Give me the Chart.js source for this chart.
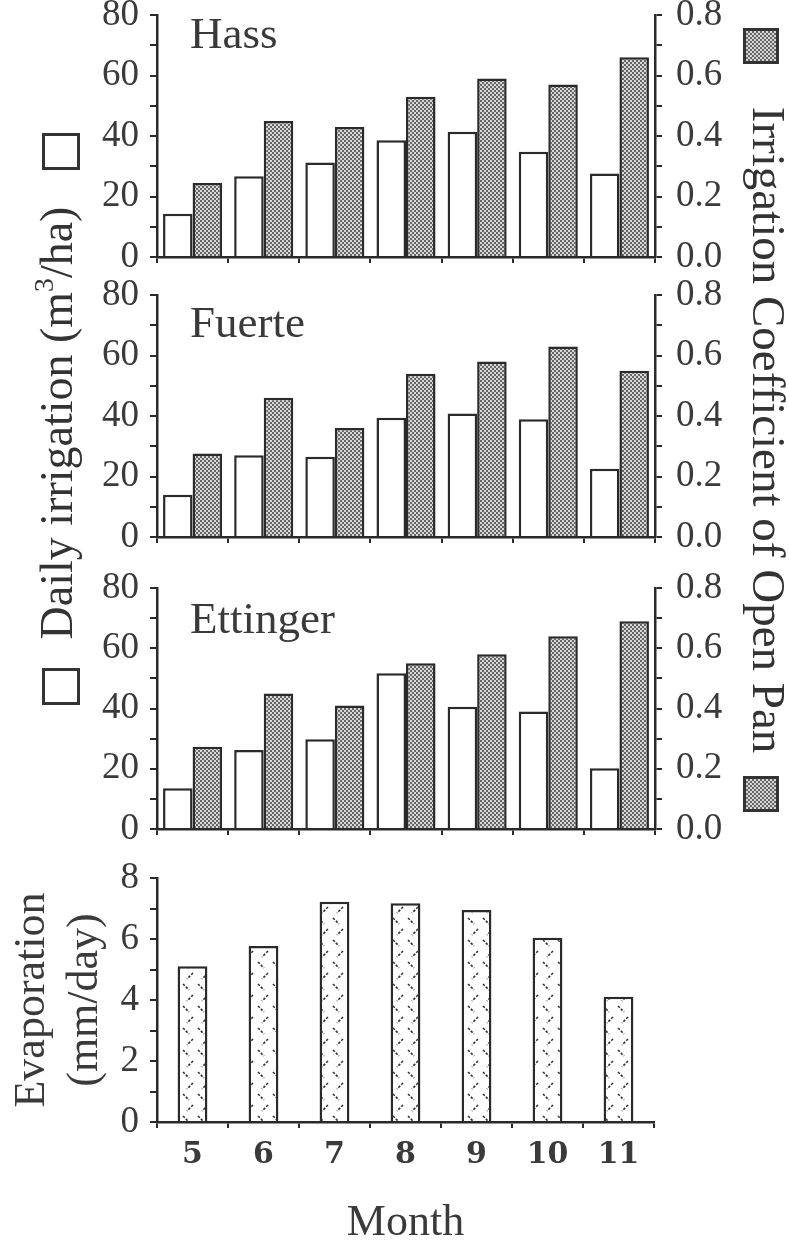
<!DOCTYPE html>
<html lang="en">
<head>
  <meta charset="UTF-8">
  <title>Daily irrigation, irrigation coefficient and evaporation by month</title>
  <script src="https://cdn.jsdelivr.net/npm/chart.js@4.4.1/dist/chart.umd.min.js"></script>
  <style>
    html, body { margin: 0; padding: 0; background: #fff; }
    #page {
      position: relative;
      width: 789px;
      height: 1245px;
      overflow: hidden;
      font-family: 'Liberation Serif', 'Times New Roman', serif;
      color: #333;
    }
    .panel { position: absolute; left: 0; width: 789px; }
    .panel canvas { display: block; }
    .vtitle {
      position: absolute;
      white-space: nowrap;
      line-height: 1;
      font-size: 46px;
    }
    .vtitle sup { font-size: 0.6em; vertical-align: 0.7em; line-height: 0; }
    .box { position: absolute; box-sizing: border-box; border: 3px solid #333; background: #fff; }
    .box.dotted {
      background: repeating-conic-gradient(#666 0 25%, #d8d8d8 0 50%) 0 0 / 4px 4px;
    }
  </style>
</head>
<body>
  <div id="page">
    <div class="panel" style="top:0px;height:280px"><canvas id="hassChart" width="789" height="280"></canvas></div>
    <div class="panel" style="top:280px;height:280px"><canvas id="fuerteChart" width="789" height="280"></canvas></div>
    <div class="panel" style="top:560px;height:290px"><canvas id="ettingerChart" width="789" height="290"></canvas></div>
    <div class="panel" style="top:850px;height:395px"><canvas id="evapChart" width="789" height="395"></canvas></div>

    <!-- titles shared by the three upper panels -->
    <div class="vtitle" style="left:57px;top:423px;transform:translate(-50%,-50%) rotate(-90deg)">Daily irrigation (m<sup>3</sup>/ha)</div>
    <div class="box" style="left:42px;top:133px;width:38px;height:37px"></div>
    <div class="box" style="left:42px;top:668px;width:38px;height:37px"></div>

    <div class="vtitle" style="left:768px;top:430px;font-size:47px;transform:translate(-50%,-50%) rotate(90deg)">Irrigation Coefficient of Open Pan</div>
    <div class="box dotted" style="left:743px;top:28px;width:36px;height:36px"></div>
    <div class="box dotted" style="left:743px;top:776px;width:36px;height:36px"></div>
  </div>

  <script>
    // month numbers on the x axis
    const months = ['5', '6', '7', '8', '9', '10', '11'];

    // daily irrigation (m3/ha), left axis
    const hassIrrigation = [14.3, 26.7, 31.2, 38.6, 41.4, 34.8, 27.6];
    const fuerteIrrigation = [14.0, 27.0, 26.5, 39.4, 40.8, 38.9, 22.6];
    const ettingerIrrigation = [13.5, 26.2, 29.8, 51.7, 40.6, 39.0, 20.2];

    // irrigation coefficient of open pan, right axis
    const hassCoefficient = [0.245, 0.45, 0.43, 0.53, 0.59, 0.57, 0.66];
    const fuerteCoefficient = [0.276, 0.46, 0.36, 0.54, 0.58, 0.63, 0.55];
    const ettingerCoefficient = [0.273, 0.45, 0.41, 0.55, 0.58, 0.64, 0.69];

    // evaporation (mm/day)
    const evaporation = [5.11, 5.77, 7.22, 7.17, 6.95, 6.04, 4.11];

    // labelled ticks
    const irrigationTicks = [0, 20, 40, 60, 80];
    const coefficientTicks = ['0.0', '0.2', '0.4', '0.6', '0.8'];
    const evaporationTicks = [0, 2, 4, 6, 8];

    const AXIS = '#2a2a2a';
    const TEXT = '#3a3a3a';
    const SERIF = "'Liberation Serif', 'Times New Roman', serif";

    Chart.defaults.font.family = SERIF;
    Chart.defaults.color = TEXT;
    Chart.defaults.animation = false;
    Chart.defaults.events = [];

    // fixed axis box: keeps the plot area where the figure has it
    function fixWidth(w) {
      return s => { s.width = w; s.paddingTop = 0; s.paddingBottom = 0; };
    }
    function fixHeight(h) {
      return s => { s.height = h; s.paddingLeft = 0; s.paddingRight = 0; };
    }

    // checkered grey fill of the coefficient bars
    function dotPattern() {
      const c = document.createElement('canvas');
      c.width = 4; c.height = 4;
      const g = c.getContext('2d');
      g.fillStyle = '#d8d8d8';
      g.fillRect(0, 0, 4, 4);
      g.fillStyle = '#666';
      g.fillRect(0, 0, 2, 2);
      g.fillRect(2, 2, 2, 2);
      return g.createPattern(c, 'repeat');
    }

    // dashed diagonals of the evaporation bars
    function dashPattern() {
      const c = document.createElement('canvas');
      c.width = 15; c.height = 22;
      const g = c.getContext('2d');
      g.fillStyle = '#fff';
      g.fillRect(0, 0, 15, 22);
      g.strokeStyle = '#333';
      g.lineWidth = 1.6;
      g.setLineDash([2.5, 1.5]);
      g.beginPath();
      g.moveTo(3, 2); g.lineTo(9, 8);
      g.moveTo(13, 13); g.lineTo(7, 19);
      g.stroke();
      return g.createPattern(c, 'repeat');
    }

    const panelLabel = {
      id: 'panelLabel',
      afterDraw(chart, args, opts) {
        if (!opts.text) return;
        const { ctx, chartArea } = chart;
        ctx.save();
        ctx.font = '45px ' + SERIF;
        ctx.fillStyle = TEXT;
        ctx.textBaseline = 'alphabetic';
        ctx.fillText(opts.text, chartArea.left + opts.dx, chartArea.top + opts.dy);
        ctx.restore();
      }
    };

    function irrigationPanel(id, name, irrigation, coefficient, padTop, xHeight, labelDy) {
      return new Chart(document.getElementById(id), {
        type: 'bar',
        data: {
          labels: months,
          datasets: [{
            data: irrigation,
            yAxisID: 'y',
            backgroundColor: '#fff',
            borderColor: AXIS,
            borderWidth: 2.5
          }, {
            data: coefficient,
            yAxisID: 'y1',
            backgroundColor: dotPattern(),
            borderColor: AXIS,
            borderWidth: 2.5
          }]
        },
        options: {
          responsive: false,
          categoryPercentage: 0.83,
          barPercentage: 1.0,
          layout: { padding: { top: padTop, left: 0, right: 0, bottom: 0 } },
          plugins: {
            legend: { display: false },
            tooltip: { enabled: false },
            panelLabel: { text: name, dx: 33, dy: labelDy }
          },
          scales: {
            x: {
              afterFit: fixHeight(xHeight),
              border: { color: AXIS, width: 2.5 },
              grid: { drawOnChartArea: false, tickLength: 6, color: AXIS, lineWidth: 2 },
              ticks: { display: false }
            },
            y: {
              position: 'left',
              min: 0,
              max: 80,
              afterFit: fixWidth(157),
              border: { color: AXIS, width: 2.5 },
              grid: { drawOnChartArea: false, tickLength: 7, color: AXIS, lineWidth: 2 },
              ticks: {
                stepSize: 10,
                autoSkip: false,
                padding: 11,
                font: { size: 37 },
                callback: v => irrigationTicks.includes(v) ? String(v) : ''
              }
            },
            y1: {
              position: 'right',
              min: 0,
              max: 0.8,
              afterFit: fixWidth(134),
              border: { color: AXIS, width: 2.5 },
              grid: { drawOnChartArea: false, tickLength: 7, color: AXIS, lineWidth: 2 },
              ticks: {
                stepSize: 0.1,
                autoSkip: false,
                padding: 14,
                font: { size: 37 },
                callback: v => {
                  const s = v.toFixed(1);
                  return coefficientTicks.includes(s) ? s : '';
                }
              }
            }
          }
        },
        plugins: [panelLabel]
      });
    }

    irrigationPanel('hassChart', 'Hass', hassIrrigation, hassCoefficient, 15, 23, 33);
    irrigationPanel('fuerteChart', 'Fuerte', fuerteIrrigation, fuerteCoefficient, 15, 23, 42);
    irrigationPanel('ettingerChart', 'Ettinger', ettingerIrrigation, ettingerCoefficient, 28, 21, 45);

    new Chart(document.getElementById('evapChart'), {
      type: 'bar',
      data: {
        labels: months,
        datasets: [{
          data: evaporation,
          backgroundColor: dashPattern(),
          borderColor: AXIS,
          borderWidth: 2.5
        }]
      },
      options: {
        responsive: false,
        categoryPercentage: 1.0,
        barPercentage: 0.42,
        layout: { padding: { top: 28, left: 0, right: 135, bottom: 0 } },
        plugins: { legend: { display: false }, tooltip: { enabled: false } },
        scales: {
          x: {
            afterFit: fixHeight(123),
            border: { color: AXIS, width: 2.5 },
            grid: { drawOnChartArea: false, tickLength: 6, color: AXIS, lineWidth: 2 },
            ticks: { padding: 9, font: { family: "'DejaVu Serif', serif", size: 30, weight: 'bold' } },
            title: {
              display: true,
              text: 'Month',
              padding: 0,
              font: { size: 44, lineHeight: 1 }
            }
          },
          y: {
            min: 0,
            max: 8,
            afterFit: fixWidth(157),
            border: { color: AXIS, width: 2.5 },
            grid: { drawOnChartArea: false, tickLength: 7, color: AXIS, lineWidth: 2 },
            ticks: {
              stepSize: 1,
              autoSkip: false,
              padding: 11,
              font: { size: 37 },
              callback: v => evaporationTicks.includes(v) ? String(v) : ''
            },
            title: {
              display: true,
              text: ['Evaporation', '(mm/day)'],
              padding: { top: 6, bottom: 0 },
              font: { size: 44, lineHeight: 1.2 }
            }
          }
        }
      }
    });
  </script>
</body>
</html>
